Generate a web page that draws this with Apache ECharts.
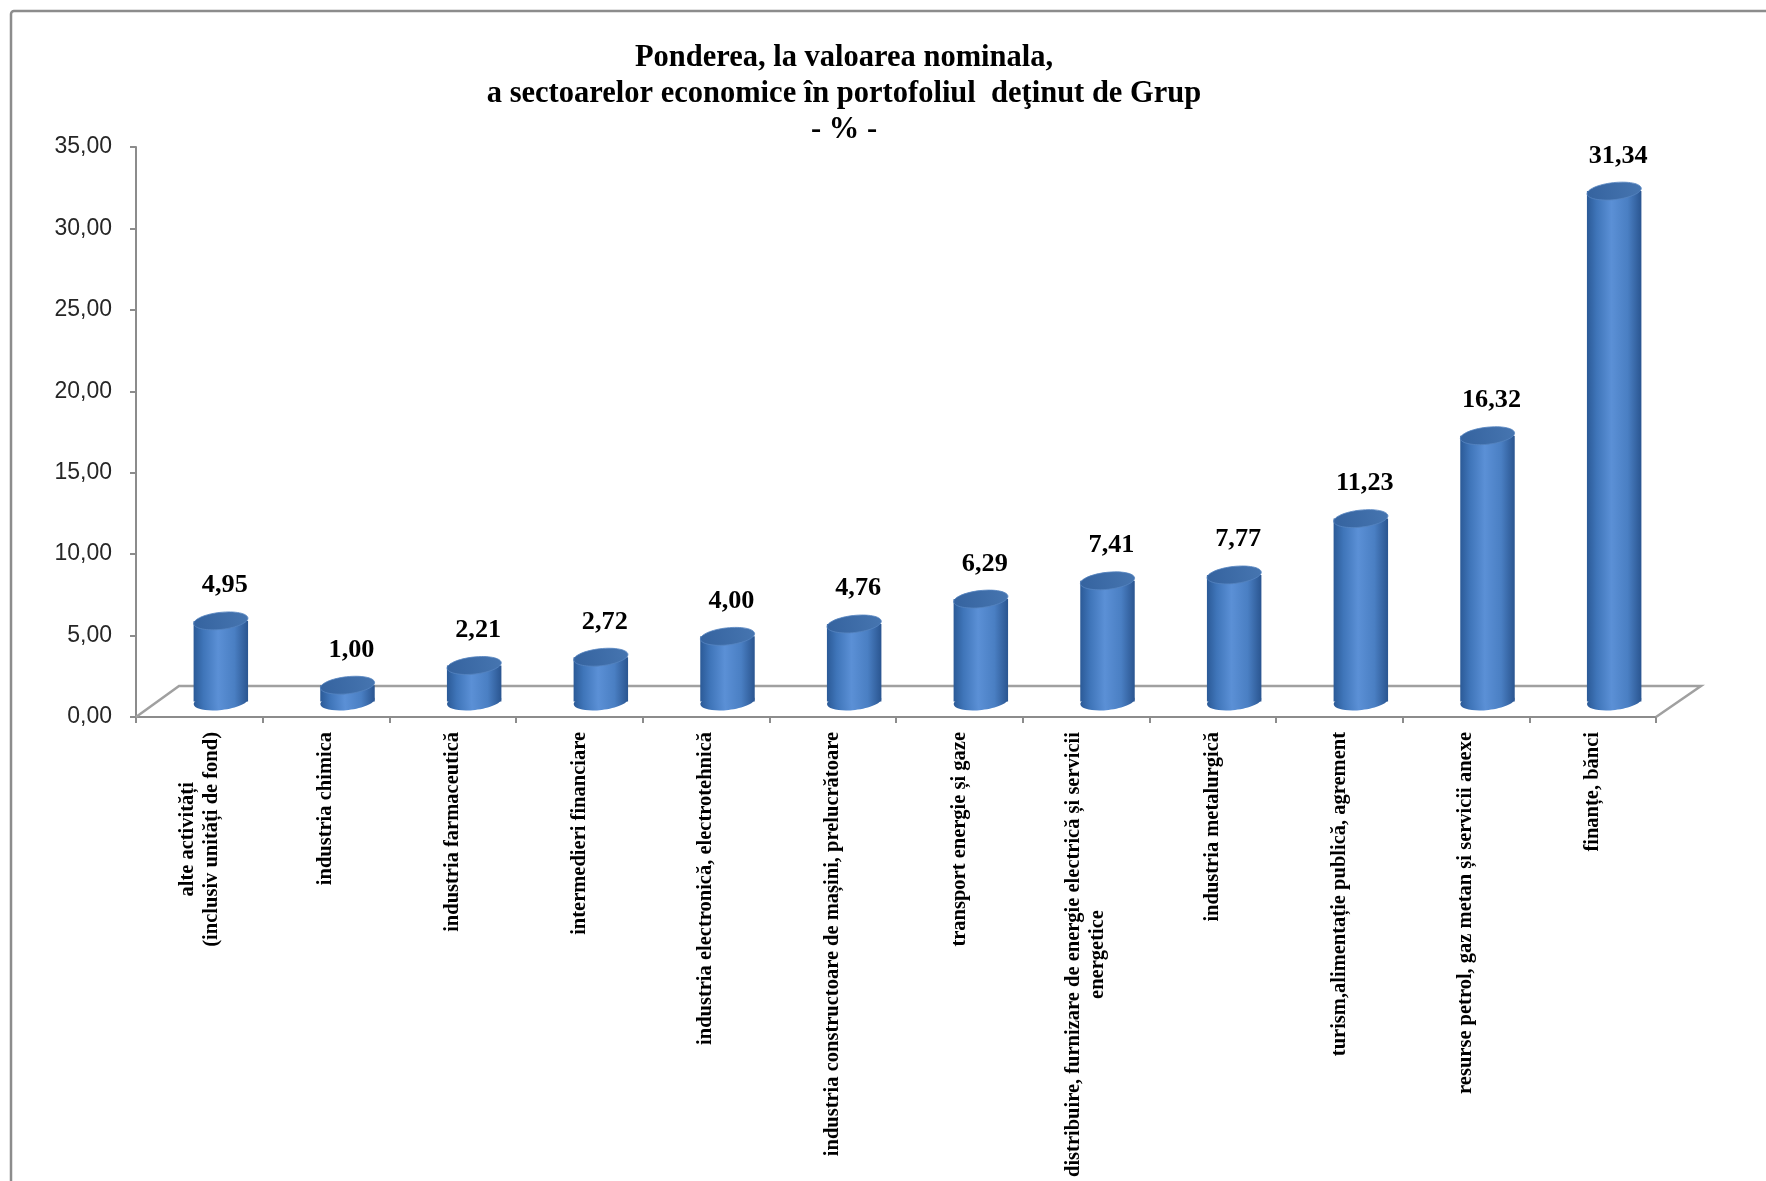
<!DOCTYPE html>
<html>
<head>
<meta charset="utf-8">
<script src="https://cdn.jsdelivr.net/npm/echarts@6/dist/echarts.min.js"></script>
<style>
html,body{margin:0;padding:0;background:#fff;}
#chart{width:1766px;height:1181px;}
</style>
</head>
<body>
<div id="chart"></div>
<script>
var categories = [
  "alte activități\n(inclusiv unități de fond)",
  "industria chimica",
  "industria farmaceutică",
  "intermedieri financiare",
  "industria electronică, electrotehnică",
  "industria constructoare de mașini, prelucrătoare",
  "transport energie și gaze",
  "distribuire, furnizare de energie electrică și servicii\nenergetice",
  "industria metalurgică",
  "turism,alimentație publică, agrement",
  "resurse petrol, gaz metan și servicii anexe",
  "finanțe, bănci"
];
var values = [4.95, 1.00, 2.21, 2.72, 4.00, 4.76, 6.29, 7.41, 7.77, 11.23, 16.32, 31.34];
var yTicks = { min: 0, max: 35, interval: 5 };
var titleText = "Ponderea, la valoarea nominala,\na sectoarelor economice în portofoliul  deţinut de Grup\n- % -";

function fmt(v) { return Number(v).toFixed(2).replace('.', ','); }

var DX = 43, DY = 31; // depth of 3D floor
var bodyGrad = function () {
  return new echarts.graphic.LinearGradient(0, 0, 1, 0, [
    { offset: 0, color: '#2b5a97' },
    { offset: 0.18, color: '#3f75b9' },
    { offset: 0.45, color: '#5b90d6' },
    { offset: 0.75, color: '#4a7fc3' },
    { offset: 1, color: '#2a5590' }
  ]);
};
var topGrad = function () {
  return new echarts.graphic.LinearGradient(0, 0, 1, 0, [
    { offset: 0, color: '#35639f' },
    { offset: 1, color: '#4675b0' }
  ]);
};

var chart = echarts.init(document.getElementById('chart'));
chart.setOption({
  backgroundColor: '#ffffff',
  animation: false,
  title: {
    text: titleText,
    left: 839,
    top: 35,
    textAlign: 'center',
    textStyle: {
      fontFamily: 'Liberation Serif',
      fontWeight: 'bold',
      fontSize: 30.5,
      lineHeight: 36,
      color: '#000'
    }
  },
  graphic: [{
    type: 'rect',
    shape: { x: 11, y: 11, width: 1850, height: 1250, r: 3 },
    style: { fill: 'none', stroke: '#8c8c8c', lineWidth: 2.5 },
    silent: true,
    z: -10
  }],
  grid: { left: 136, right: 110, top: 147, bottom: 464, containLabel: false },
  xAxis: {
    type: 'category',
    data: categories,
    boundaryGap: true,
    axisLine: { lineStyle: { color: '#8c8c8c', width: 2 } },
    axisTick: { show: true, length: 6, lineStyle: { color: '#8c8c8c', width: 2 } },
    axisLabel: {
      interval: 0,
      rotate: 90,
      margin: 15,
      formatter: function (v) {
        return v.split('\n').map(function (s) { return '{a|' + s + '}'; }).join('\n');
      },
      rich: {
        a: {
          align: 'center',
          fontFamily: 'Liberation Serif',
          fontWeight: 'bold',
          fontSize: 20.5,
          lineHeight: 24,
          color: '#000'
        }
      }
    }
  },
  yAxis: {
    type: 'value',
    min: yTicks.min,
    max: yTicks.max,
    interval: yTicks.interval,
    splitLine: { show: false },
    axisLine: { show: true, lineStyle: { color: '#8c8c8c', width: 2 } },
    axisTick: { show: true, length: 6, lineStyle: { color: '#8c8c8c', width: 2 } },
    axisLabel: {
      margin: 24,
      formatter: fmt,
      fontFamily: 'Liberation Sans',
      fontSize: 23,
      color: '#262626'
    }
  },
  series: [
    {
      type: 'custom',
      name: 'floor',
      silent: true,
      clip: false,
      z: 1,
      data: [[0, 0]],
      renderItem: function (params, api) {
        var cs = params.coordSys;
        var x0 = cs.x, x1 = cs.x + cs.width, yb = cs.y + cs.height;
        return {
          type: 'polyline',
          shape: { points: [[x0, yb], [x0 + DX, yb - DY], [x1 + DX + 2, yb - DY], [x1, yb]] },
          style: { fill: 'none', stroke: '#a0a0a0', lineWidth: 2.5 }
        };
      }
    },
    {
      type: 'custom',
      name: 'Pondere',
      clip: false,
      z: 3,
      data: values.map(function (v, i) { return [i, v]; }),
      renderItem: function (params, api) {
        var i = api.value(0), v = api.value(1);
        var p0 = api.coord([i, 0]);
        var p1 = api.coord([i, v]);
        var band = api.size([1, 0])[0];
        var w = band * 0.43;
        var rx = w / 2, ry = 8.5;
        var cx = p0[0] + DX / 2;
        var baseY = p0[1] - DY / 2;
        var topY = p1[1] - DY / 2;
        var rot = 0.11;
        return {
          type: 'group',
          children: [
            {
              type: 'ellipse',
              shape: { cx: cx, cy: baseY, rx: rx, ry: ry },
              rotation: rot, originX: cx, originY: baseY,
              style: { fill: bodyGrad() }
            },
            {
              type: 'rect',
              shape: { x: cx - rx, y: topY, width: w, height: baseY - topY },
              style: { fill: bodyGrad() }
            },
            {
              type: 'ellipse',
              shape: { cx: cx, cy: topY, rx: rx, ry: ry },
              rotation: rot, originX: cx, originY: topY,
              style: { fill: topGrad(), stroke: '#5584c0', lineWidth: 0.8 }
            },
            {
              type: 'text',
              x: cx + 4,
              y: topY - 35,
              scaleX: 1.05,
              style: {
                text: fmt(v),
                fontFamily: 'Liberation Serif',
                fontWeight: 'bold',
                fontSize: 25,
                fill: '#000',
                align: 'center',
                verticalAlign: 'middle'
              }
            }
          ]
        };
      }
    }
  ]
});
</script>
</body>
</html>
